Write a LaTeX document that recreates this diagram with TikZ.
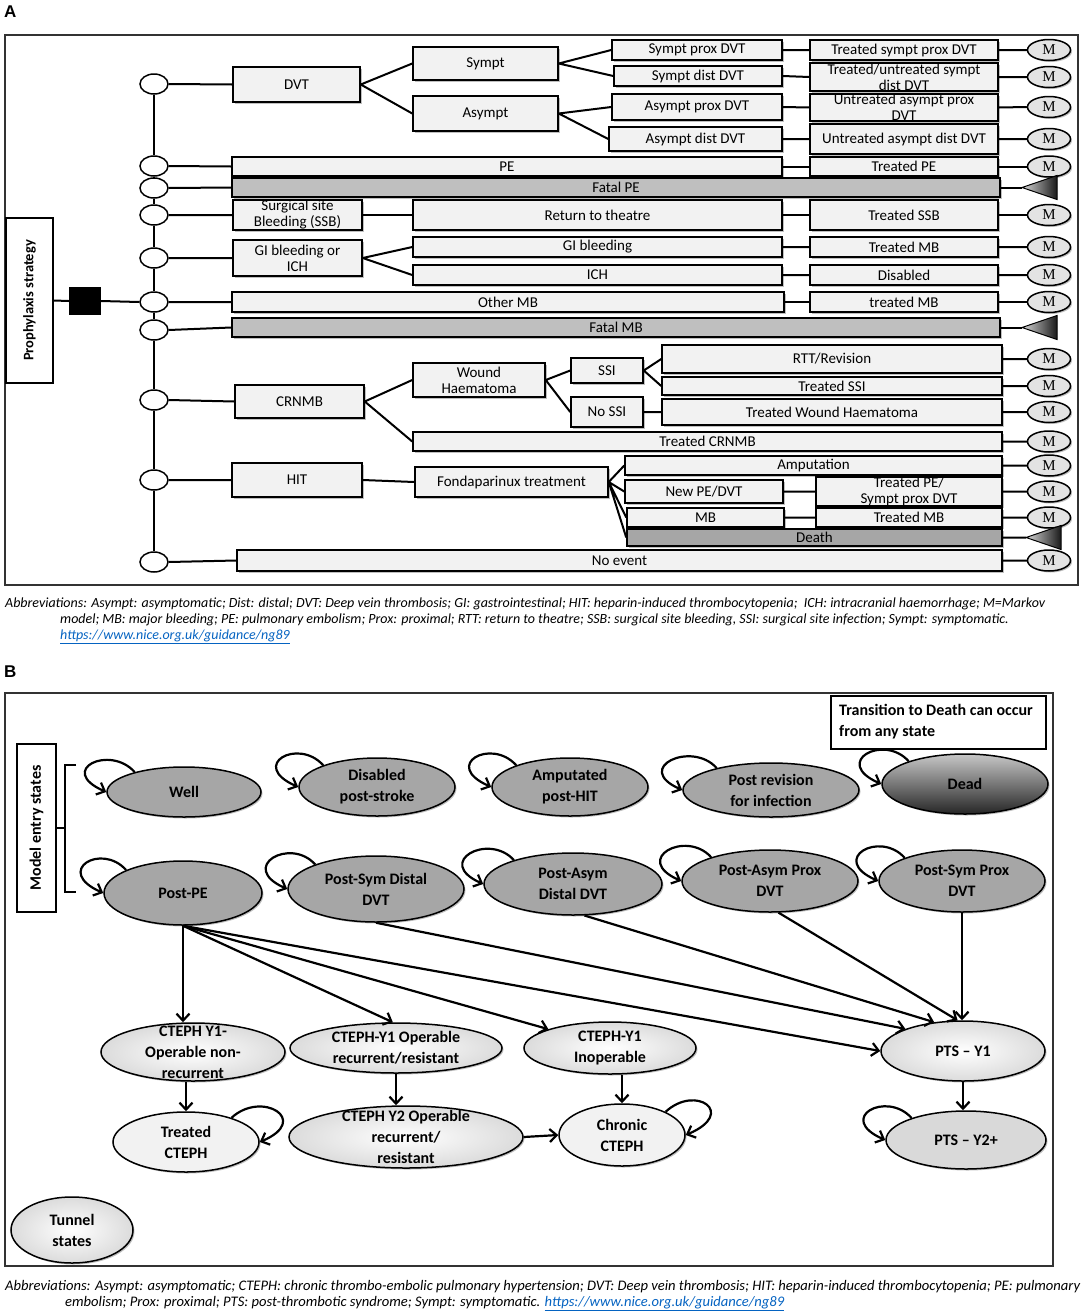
\documentclass[tikz,border=0pt]{standalone}
\usepackage{fontspec}
\setmainfont{Carlito}
\newfontfamily\arialfont{Liberation Sans}
\newfontfamily\timesfont{Liberation Serif}
\usetikzlibrary{shapes.geometric,arrows.meta,shadows}
\definecolor{boxfill}{HTML}{F2F2F2}
\definecolor{fatalfill}{HTML}{BFBFBF}
\definecolor{deathfill}{HTML}{A6A6A6}
\definecolor{mfill}{HTML}{E3E3E3}
\definecolor{stategray}{HTML}{A6A6A6}
\definecolor{lightstate}{HTML}{F2F2F2}
\definecolor{midstate}{HTML}{D9D9D9}
\definecolor{linkblue}{HTML}{0563C1}
\newsavebox\capboxA
\newsavebox\capboxB
\newlength\capwA
\newlength\capwB
\newcommand{\capfont}{\itshape\fontsize{12}{14}\selectfont}
\newcommand{\lnk}[1]{\textcolor{linkblue}{\underline{#1}}}
\tikzset{
  shd/.style={drop shadow={shadow xshift=1.5pt,shadow yshift=-1.5pt,fill=black,opacity=0.25}},
  abox/.style={draw=black,line width=1.5pt,fill=boxfill,rectangle,inner sep=0pt,shd},
  fatalbox/.style={abox,fill=fatalfill},
  deathbox/.style={abox,fill=deathfill},
  atext/.style={inner sep=0pt,align=center,font=\fontsize{15}{16}\selectfont},
  chance/.style={draw,ellipse,line width=1.5pt,fill=white,minimum width=28,minimum height=20,inner sep=0pt},
  mnode/.style={draw,ellipse,line width=1.5pt,fill=mfill,minimum width=43,minimum height=21,inner sep=0pt,font=\timesfont\fontsize{15}{15}\selectfont,shd},
  aline/.style={line width=2pt},
  frame/.style={line width=1.2pt,draw=black!80},
  tristyle/.style={line width=1pt,left color=gray!30,right color=black!90},
  labl/.style={inner sep=0pt,font=\arialfont\bfseries\fontsize{17}{17}\selectfont},
  state/.style={draw,ellipse,line width=1.5pt,inner sep=0pt,shd},
  gstate/.style={state,fill=stategray},
  deadstate/.style={state,top color=black!22,bottom color=black!85},
  tstate/.style={state,inner color=white,outer color=gray!28},
  lstate/.style={state,fill=lightstate},
  mstate/.style={state,fill=midstate},
  stext/.style={inner sep=0pt,align=center,font=\bfseries\fontsize{16}{21}\selectfont},
  ar/.style={line width=2.2pt,-{Straight Barb[length=7pt,width=13pt]}},
}
\newcommand{\bx}[7][abox]{%
  \node[#1,minimum width={#5-#3},minimum height={#6-#4}] (#2) at ({(#3+#5)/2},{-(#4+#6)/2}) {};
  \node[atext] (#2-t) at (#2.center) {#7};}
\newcommand{\stn}[7]{%
  \node[#1,minimum width={2*#5},minimum height={2*#6}] (#2) at (#3,-#4) {};
  \node[stext] (#2-t) at (#2.center) {#7};}
\newcommand{\mkM}[3]{\node[mnode] (#1) at (#2,-#3) {M};}
\newcommand{\trinode}[3]{\coordinate (#1) at (#2,-#3);
  \shadedraw[tristyle] (#1) -- ++(35,12) -- ++(0,-24) -- cycle;}
\begin{document}
\sbox\capboxA{\capfont Abbreviations: Asympt: asymptomatic; Dist: distal; DVT: Deep vein thrombosis; GI: gastrointestinal; HIT: heparin-induced thrombocytopenia; \ ICH: intracranial haemorrhage; M=Markov}%
\setlength\capwA{\wd\capboxA}%
\pgfmathsetmacro\capsA{1040/\capwA}%
\sbox\capboxB{\capfont Abbreviations: Asympt: asymptomatic; CTEPH: chronic thrombo-embolic pulmonary hypertension; DVT: Deep vein thrombosis; HIT: heparin-induced thrombocytopenia; PE: pulmonary}%
\setlength\capwB{\wd\capboxB}%
\pgfmathsetmacro\capsB{1075/\capwB}%
\begin{tikzpicture}[x=1pt,y=1pt]
\useasboundingbox (0,0) rectangle (1084,-1315);

% ================= Panel A =================
\node[labl,anchor=base west] (labA) at (4,-17) {A};
\draw[frame] (5,-35) rectangle (1078,-585);

\node[draw,line width=1.5pt,fill=white,minimum width=47,minimum height=165,inner sep=0pt] (proph) at (29.5,-300.5) {};
\node[rotate=90,inner sep=0pt,font=\bfseries\fontsize{14.5}{15}\selectfont] (proph-t) at (proph.center) {Prophylaxis strategy};
\node[fill=black,minimum width=32,minimum height=28,inner sep=0pt] (dec) at (85,-301) {};

\foreach \i/\y in {1/84,2/166,3/188,4/215,5/258,6/302,7/330,8/400,9/480,10/562}
  \node[chance] (c\i) at (154,-\y) {};

\bx{dvt}{233}{67}{360}{102}{DVT}
\bx{sympt}{413}{47}{558}{80}{Sympt}
\bx{asympt}{413}{96}{558}{131}{Asympt}
\bx{spd}{612}{40}{782}{60}{Sympt prox DVT}
\bx{sdd}{614}{66}{782}{86}{Sympt dist DVT}
\bx{apd}{612}{94}{782}{120}{Asympt prox DVT}
\bx{add}{609}{127}{782}{151}{Asympt dist DVT}
\bx{tspd}{810}{40}{998}{60}{Treated sympt prox DVT}
\bx{tsdd}{810}{63}{998}{91}{Treated/untreated sympt\\dist DVT}
\bx{uapd}{810}{94}{998}{121}{Untreated asympt prox\\DVT}
\bx{uadd}{810}{124}{998}{154}{Untreated asympt dist DVT}
\bx{pe}{232}{157}{782}{176}{PE}
\bx{tpe}{810}{157}{998}{176}{Treated PE}
\bx[fatalbox]{fpe}{232}{178}{1000}{197}{Fatal PE}
\bx{ssb}{233}{200}{362}{230}{Surgical site\\Bleeding (SSB)}
\bx{rtt}{413}{200}{782}{230}{Return to theatre}
\bx{tssb}{810}{200}{998}{230}{Treated SSB}
\bx{gich}{233}{240}{362}{276}{GI bleeding or\\ICH}
\bx{gib}{413}{237}{782}{257}{GI bleeding}
\bx{ich}{413}{265}{782}{285}{ICH}
\bx{tmba}{810}{237}{998}{257}{Treated MB}
\bx{disb}{810}{265}{998}{285}{Disabled}
\bx{omb}{232}{292}{784}{312}{Other MB}
\bx{tmbb}{810}{292}{998}{312}{treated MB}
\bx[fatalbox]{fmb}{232}{318}{1000}{337}{Fatal MB}
\bx{crnmb}{235}{385}{364}{418}{CRNMB}
\bx{wh}{413}{363}{545}{397}{Wound\\Haematoma}
\bx{ssi}{571}{358}{643}{383}{SSI}
\bx{nossi}{571}{397}{643}{427}{No SSI}
\bx{rttr}{662}{345}{1002}{373}{RTT/Revision}
\bx{tssi}{662}{377}{1002}{395}{Treated SSI}
\bx{twh}{662}{399}{1002}{425}{Treated Wound Haematoma}
\bx{tcrnmb}{413}{432}{1002}{451}{Treated CRNMB}
\bx{hit}{232}{463}{362}{497}{HIT}
\bx{fond}{415}{467}{608}{497}{Fondaparinux treatment}
\bx{amp}{625}{456}{1002}{475}{Amputation}
\bx{npd}{625}{480}{783}{503}{New PE/DVT}
\bx{tpesp}{816}{477}{1002}{506}{Treated PE/\\Sympt prox DVT}
\bx{mbx}{627}{508}{784}{527}{MB}
\bx{tmbc}{816}{508}{1002}{527}{Treated MB}
\bx[deathbox]{death}{627}{529}{1002}{546}{Death}
\bx{noev}{237}{550}{1002}{571}{No event}

\mkM{m1}{1049}{50}
\mkM{m2}{1049}{77}
\mkM{m3}{1049}{107}
\mkM{m4}{1049}{139}
\mkM{m5}{1049}{166.5}
\mkM{m6}{1049}{215}
\mkM{m7}{1049}{247}
\mkM{m8}{1049}{275}
\mkM{m9}{1049}{302}
\mkM{m10}{1049}{359}
\mkM{m11}{1049}{386}
\mkM{m12}{1049}{412}
\mkM{m13}{1049}{441.5}
\mkM{m14}{1049}{465.5}
\mkM{m15}{1049}{491.5}
\mkM{m16}{1049}{517.5}
\mkM{m17}{1049}{560.5}
\trinode{tra}{1022}{187.5}
\trinode{trb}{1022}{327.5}
\trinode{trc}{1026}{537.5}

\draw[aline] (proph.east) -- (dec.west) (dec.east) -- (c6.west);
\draw[aline] (c1.south) -- (c2.north) (c2.south) -- (c3.north) (c3.south) -- (c4.north)
  (c4.south) -- (c5.north) (c5.south) -- (c6.north) (c6.south) -- (c7.north)
  (c7.south) -- (c8.north) (c8.south) -- (c9.north) (c9.south) -- (c10.north);
\draw[aline] (c1.east) -- (dvt.west) (c2.east) -- (pe.west) (c3.east) -- (fpe.west)
  (c4.east) -- (ssb.west) (c5.east) -- (gich.west) (c6.east) -- (omb.west)
  (c7.east) -- (fmb.west) (c8.east) -- (crnmb.west) (c9.east) -- (hit.west)
  (c10.east) -- (noev.west);
\draw[aline] (dvt.east) -- (sympt.west) (dvt.east) -- (asympt.west)
  (sympt.east) -- (spd.west) (sympt.east) -- (sdd.west)
  (asympt.east) -- (apd.west) (asympt.east) -- (add.west)
  (spd.east) -- (tspd.west) (sdd.east) -- (tsdd.west)
  (apd.east) -- (uapd.west) (add.east) -- (uadd.west)
  (tspd.east) -- (m1.west) (tsdd.east) -- (m2.west)
  (uapd.east) -- (m3.west) (uadd.east) -- (m4.west);
\draw[aline] (pe.east) -- (tpe.west) (tpe.east) -- (m5.west) (fpe.east) -- (tra);
\draw[aline] (ssb.east) -- (rtt.west) (rtt.east) -- (tssb.west) (tssb.east) -- (m6.west);
\draw[aline] (gich.east) -- (gib.west) (gich.east) -- (ich.west)
  (gib.east) -- (tmba.west) (ich.east) -- (disb.west)
  (tmba.east) -- (m7.west) (disb.east) -- (m8.west);
\draw[aline] (omb.east) -- (tmbb.west) (tmbb.east) -- (m9.west) (fmb.east) -- (trb);
\draw[aline] (crnmb.east) -- (wh.west) (crnmb.east) -- (tcrnmb.west)
  (wh.east) -- (ssi.west) (wh.east) -- (nossi.west)
  (ssi.east) -- (rttr.west) (ssi.east) -- (tssi.west) (nossi.east) -- (twh.west)
  (rttr.east) -- (m10.west) (tssi.east) -- (m11.west) (twh.east) -- (m12.west)
  (tcrnmb.east) -- (m13.west);
\draw[aline] (hit.east) -- (fond.west)
  (fond.east) -- (amp.west) (fond.east) -- (npd.west) (fond.east) -- (mbx.west) (fond.east) -- (death.west)
  (npd.east) -- (tpesp.west) (mbx.east) -- (tmbc.west)
  (amp.east) -- (m14.west) (tpesp.east) -- (m15.west) (tmbc.east) -- (m16.west)
  (death.east) -- (trc) (noev.east) -- (m17.west);

\node[anchor=base west,inner sep=0pt] (capa1) at (5,-607) {\scalebox{\capsA}{\usebox\capboxA}};
\node[anchor=base west,inner sep=0pt] (capa2) at (60,-623) {\scalebox{\capsA}{\capfont model; MB: major bleeding; PE: pulmonary embolism; Prox: proximal; RTT: return to theatre; SSB: surgical site bleeding, SSI: surgical site infection; Sympt: symptomatic.}};
\node[anchor=base west,inner sep=0pt] (capa3) at (60,-639) {\scalebox{\capsA}{\capfont\lnk{https://www.nice.org.uk/guidance/ng89}}};

% ================= Panel B =================
\node[labl,anchor=base west] (labB) at (4,-677) {B};
\draw[frame] (5,-693) rectangle (1053,-1266);

\node[draw,line width=1.5pt,fill=white,anchor=north west,minimum width=215,minimum height=53,inner sep=0pt] (trans) at (830,-695) {};
\node[anchor=west,align=left,inner sep=0pt,font=\bfseries\fontsize{16}{21}\selectfont] (trans-t) at (839,-722) {Transition to Death can occur\\from any state};

\node[draw,line width=1.5pt,fill=white,minimum width=39,minimum height=168,inner sep=0pt] (mes) at (36.5,-828) {};
\node[rotate=90,inner sep=0pt,font=\bfseries\fontsize{16}{17}\selectfont] (mes-t) at (mes.center) {Model entry states};
\draw[line width=2pt] (76,-765) -- (65,-765) -- (65,-892) -- (76,-892);
\draw[line width=2pt] (65,-828) -- (mes.east);

\stn{gstate}{well}{184}{792}{77}{25}{Well}
\stn{gstate}{disab}{377}{787}{78}{29}{Disabled\\post-stroke}
\stn{gstate}{amput}{570}{787}{78}{29}{Amputated\\post-HIT}
\stn{gstate}{postrev}{771}{790}{88}{27}{Post revision\\for infection}
\stn{deadstate}{dead}{965}{784}{83}{30}{Dead}
\stn{gstate}{postpe}{183}{893}{79}{32}{Post-PE}
\stn{gstate}{postsd}{376}{889}{88}{33}{Post-Sym Distal\\DVT}
\stn{gstate}{postad}{573}{884}{89}{31}{Post-Asym\\Distal DVT}
\stn{gstate}{postap}{770}{881}{88}{31}{Post-Asym Prox\\DVT}
\stn{gstate}{postsp}{962}{881}{83}{31}{Post-Sym Prox\\DVT}
\stn{tstate}{cteph1}{193}{1052}{92}{29}{CTEPH Y1-\\Operable non-\\recurrent}
\stn{tstate}{ctephop}{396}{1048}{106}{25}{CTEPH-Y1 Operable\\recurrent/resistant}
\stn{tstate}{inop}{610}{1048}{86}{26}{CTEPH-Y1\\Inoperable}
\stn{tstate}{pts1}{963}{1051}{82}{30}{PTS – Y1}
\stn{lstate}{treated}{186}{1142}{73}{30}{Treated\\CTEPH}
\stn{tstate}{cteph2}{406}{1137}{117}{31}{CTEPH Y2 Operable\\recurrent/\\resistant}
\stn{lstate}{chronic}{622}{1135}{63}{31}{Chronic\\CTEPH}
\stn{mstate}{pts2}{966}{1140}{80}{29}{PTS – Y2+}
\stn{tstate}{tunnel}{72}{1230}{61}{33}{Tunnel\\states}

\foreach \n in {well,disab,amput,postrev,dead,postpe,postsd,postad,postap,postsp,pts2}
  \draw[ar] (\n.158) .. controls +(-25,28) and +(-50,22) .. (\n.west);
\foreach \n in {treated,chronic}
  \draw[ar] (\n.28) .. controls +(30,28) and +(52,22) .. (\n.east);

\draw[ar] (postpe.south) -- (postpe.south |- cteph1.north);
\draw[ar] (postpe.south) -- (ctephop.97);
\draw[ar] (postpe.south) -- (inop.163);
\draw[ar] (postpe.south) -- (pts1.west);
\draw[ar] (postsd.south) -- (pts1.159);
\draw[ar] (postad.-70) -- (pts1.135);
\draw[ar] (postap.-75) -- (pts1.100);
\draw[ar] (postsp.south) -- (postsp.south |- pts1.north);
\draw[ar] (treated.north |- cteph1.south) -- (treated.north);
\draw[ar] (ctephop.south) -- (ctephop.south |- cteph2.north);
\draw[ar] (chronic.north |- inop.south) -- (chronic.north);
\draw[ar] (cteph2.east) -- (chronic.west);
\draw[ar] (pts1.south) -- (pts1.south |- pts2.north);

\node[anchor=base west,inner sep=0pt] (capb1) at (5,-1290) {\scalebox{\capsB}{\usebox\capboxB}};
\node[anchor=base west,inner sep=0pt] (capb2) at (65,-1306) {\scalebox{\capsB}{\capfont embolism; Prox: proximal; PTS: post-thrombotic syndrome; Sympt: symptomatic. \lnk{https://www.nice.org.uk/guidance/ng89}}};
\end{tikzpicture}
\end{document}
